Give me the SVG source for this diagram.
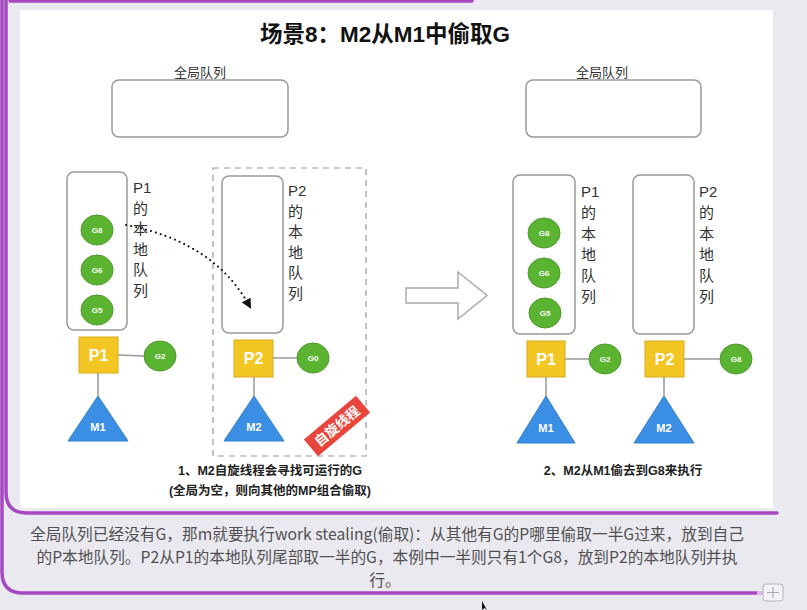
<svg xmlns="http://www.w3.org/2000/svg" width="807" height="610" viewBox="0 0 807 610">
<defs>
<style>
.t{font-family:"Liberation Sans","Noto Sans CJK SC",sans-serif}
.q{fill:#fff;stroke:#9a9a9a;stroke-width:1.5}
.g{fill:#5bb431;stroke:#4a9a28;stroke-width:1}
.gt{font-family:"Liberation Sans",sans-serif;font-size:8px;fill:#fff;text-anchor:middle;font-weight:bold}
.p{fill:#f4c623;stroke:#d9ab1a;stroke-width:1}
.pt{font-family:"Liberation Sans",sans-serif;font-size:16px;fill:#fff;text-anchor:middle;font-weight:bold}
.m{fill:#3a8fe4;stroke:#2f7dcc;stroke-width:1}
.mt{font-family:"Liberation Sans",sans-serif;font-size:11px;fill:#fff;text-anchor:middle;font-weight:bold}
.ln{stroke:#999;stroke-width:1.5;fill:none}
.vt{font-family:"Liberation Sans","Noto Sans CJK SC",sans-serif;font-size:15px;fill:#333}
.lbl{font-family:"Liberation Sans","Noto Sans CJK SC",sans-serif;font-size:13px;fill:#333;text-anchor:middle}
.cap{font-family:"Liberation Sans","Noto Sans CJK SC",sans-serif;font-size:12.5px;fill:#222;text-anchor:middle;font-weight:bold}
.pu{stroke:#a648c0;stroke-width:3.5;fill:none;stroke-linecap:round}
.bt{font-family:"Noto Sans CJK SC",sans-serif;font-size:15.7px;fill:#505050;text-anchor:middle}
</style>
<marker id="ah" viewBox="0 0 10 10" refX="8" refY="5" markerWidth="5" markerHeight="5" orient="auto">
<path d="M0,0 L10,5 L0,10 z" fill="#111"/>
</marker>
</defs>
<rect width="807" height="610" fill="#ebe9f0"/>
<rect x="20" y="10" width="753" height="498" fill="#fff"/>
<g id="frame">
<path class="pu" d="M10,1 L472,1"/>
<path class="pu" d="M6,0 L6,492 Q6,513 27,513 L777,513"/>
<path class="pu" d="M2,0 L2,572 Q2,593 23,593 L757,593"/>
<path d="M757,593 L764,593" stroke="#d9b6e3" stroke-width="4"/>
<rect x="763" y="584" width="20" height="17" rx="3" fill="#f4f2f7" stroke="#b5b5b5"/>
<path d="M773,587 L773,598 M767,592.5 L779,592.5" stroke="#aaa" stroke-width="1.2"/>
</g>
<text class="t" x="385" y="42" font-size="22.5" font-weight="bold" text-anchor="middle" fill="#111">场景8：M2从M1中偷取G</text>

<g id="global-queue-left">
<text class="lbl" x="200" y="77">全局队列</text>
<rect class="q" x="112" y="80" width="176" height="57" rx="7"/>
</g>
<g id="global-queue-right">
<text class="lbl" x="602" y="77">全局队列</text>
<rect class="q" x="526" y="80" width="175" height="57" rx="7"/>
</g>

<g id="spin-frame">
<rect x="213" y="168" width="153" height="288" fill="none" stroke="#9a9a9a" stroke-width="1.2" stroke-dasharray="6,5"/>
</g>

<g id="L-P1-queue">
<rect class="q" x="67" y="172" width="60" height="158" rx="7"/>
<text class="vt" x="133" y="193">P1<tspan x="133" dy="20.5">的</tspan><tspan x="133" dy="20.5">本</tspan><tspan x="133" dy="20.5">地</tspan><tspan x="133" dy="20.5">队</tspan><tspan x="133" dy="20.5">列</tspan></text>
</g>
<g id="L-G8"><ellipse class="g" cx="97" cy="230" rx="16" ry="15"/><text class="gt" x="97" y="233">G8</text></g>
<g id="L-G6"><ellipse class="g" cx="97" cy="270" rx="16" ry="15"/><text class="gt" x="97" y="273">G6</text></g>
<g id="L-G5"><ellipse class="g" cx="97" cy="310" rx="16" ry="15"/><text class="gt" x="97" y="313">G5</text></g>
<g id="L-P1"><rect class="p" x="79" y="337" width="39" height="36"/><text class="pt" x="98.5" y="361">P1</text></g>
<g id="L-G2"><ellipse class="g" cx="160" cy="356" rx="16" ry="15"/><text class="gt" x="160" y="359">G2</text></g>
<g id="L-M1"><path class="m" d="M98,396 L128,441 L68,441 z"/><text class="mt" x="98" y="431">M1</text></g>

<g id="L-P2-queue">
<rect class="q" x="222" y="176" width="61" height="157" rx="7"/>
<text class="vt" x="288" y="196">P2<tspan x="288" dy="20.5">的</tspan><tspan x="288" dy="20.5">本</tspan><tspan x="288" dy="20.5">地</tspan><tspan x="288" dy="20.5">队</tspan><tspan x="288" dy="20.5">列</tspan></text>
</g>
<g id="L-P2"><rect class="p" x="234" y="340" width="39" height="37"/><text class="pt" x="253.5" y="364">P2</text></g>
<g id="L-G0"><ellipse class="g" cx="313" cy="358" rx="16" ry="15"/><text class="gt" x="313" y="361">G0</text></g>
<g id="L-M2"><path class="m" d="M254,396 L284,441 L224,441 z"/><text class="mt" x="254" y="431">M2</text></g>
<g id="spin-badge" transform="translate(337,426) rotate(-40)">
<rect x="-34" y="-11" width="68" height="22" fill="#e8453c"/>
<text class="t" x="0" y="5" font-size="13.5" font-weight="bold" fill="#fff" text-anchor="middle">自旋线程</text>
</g>

<g id="big-arrow">
<path d="M406,288 L458,288 L458,272 L487,295.5 L458,319 L458,303 L406,303 z" fill="#fff" stroke="#aaa" stroke-width="1.5"/>
</g>

<g id="R-P1-queue">
<rect class="q" x="513" y="175" width="62" height="159" rx="7"/>
<text class="vt" x="581" y="197">P1<tspan x="581" dy="21">的</tspan><tspan x="581" dy="21">本</tspan><tspan x="581" dy="21">地</tspan><tspan x="581" dy="21">队</tspan><tspan x="581" dy="21">列</tspan></text>
</g>
<g id="R-G8"><ellipse class="g" cx="544" cy="233" rx="16" ry="15"/><text class="gt" x="544" y="236">G8</text></g>
<g id="R-G6"><ellipse class="g" cx="544" cy="273" rx="16" ry="15"/><text class="gt" x="544" y="276">G6</text></g>
<g id="R-G5"><ellipse class="g" cx="545" cy="313" rx="16" ry="15"/><text class="gt" x="545" y="316">G5</text></g>
<g id="R-P1"><rect class="p" x="527" y="341" width="38" height="36"/><text class="pt" x="546" y="365">P1</text></g>
<g id="R-G2"><ellipse class="g" cx="605" cy="359" rx="16" ry="15"/><text class="gt" x="605" y="362">G2</text></g>
<g id="R-M1"><path class="m" d="M546,396 L575,443 L517,443 z"/><text class="mt" x="546" y="432">M1</text></g>

<g id="R-P2-queue">
<rect class="q" x="633" y="175" width="61" height="159" rx="7"/>
<text class="vt" x="699" y="197">P2<tspan x="699" dy="21">的</tspan><tspan x="699" dy="21">本</tspan><tspan x="699" dy="21">地</tspan><tspan x="699" dy="21">队</tspan><tspan x="699" dy="21">列</tspan></text>
</g>
<g id="R-P2"><rect class="p" x="645" y="341" width="39" height="36"/><text class="pt" x="664.5" y="365">P2</text></g>
<g id="R-G8b"><ellipse class="g" cx="736" cy="359" rx="16" ry="15"/><text class="gt" x="736" y="362">G8</text></g>
<g id="R-M2"><path class="m" d="M664,396 L694,443 L634,443 z"/><text class="mt" x="664" y="432">M2</text></g>

<g id="connectors">
<path class="ln" d="M118,355 L144,356"/>
<path class="ln" d="M98,373 L98,396"/>
<path class="ln" d="M273,358 L297,358"/>
<path class="ln" d="M254,377 L254,396"/>
<path class="ln" d="M565,359 L589,359"/>
<path class="ln" d="M546,377 L546,396"/>
<path class="ln" d="M684,359 L720,359"/>
<path class="ln" d="M664,377 L664,396"/>
<path d="M126,225 Q215,242 250,307" fill="none" stroke="#111" stroke-width="2" stroke-dasharray="0.1,5" stroke-linecap="round" marker-end="url(#ah)"/>
</g>

<text class="cap" x="270" y="475">1、M2自旋线程会寻找可运行的G</text>
<text class="cap" x="270" y="495">(全局为空，则向其他的MP组合偷取)</text>
<text class="cap" x="623" y="475">2、M2从M1偷去到G8来执行</text>

<text class="bt" x="387" y="540">全局队列已经没有G，那m就要执行work stealing(偷取)：从其他有G的P哪里偷取一半G过来，放到自己</text>
<text class="bt" x="387" y="563">的P本地队列。P2从P1的本地队列尾部取一半的G，本例中一半则只有1个G8，放到P2的本地队列并执</text>
<text class="bt" x="385" y="586">行。</text>
<path d="M482,601 L482,610 L484.5,608 L487,610 Z" fill="#111"/>
</svg>
